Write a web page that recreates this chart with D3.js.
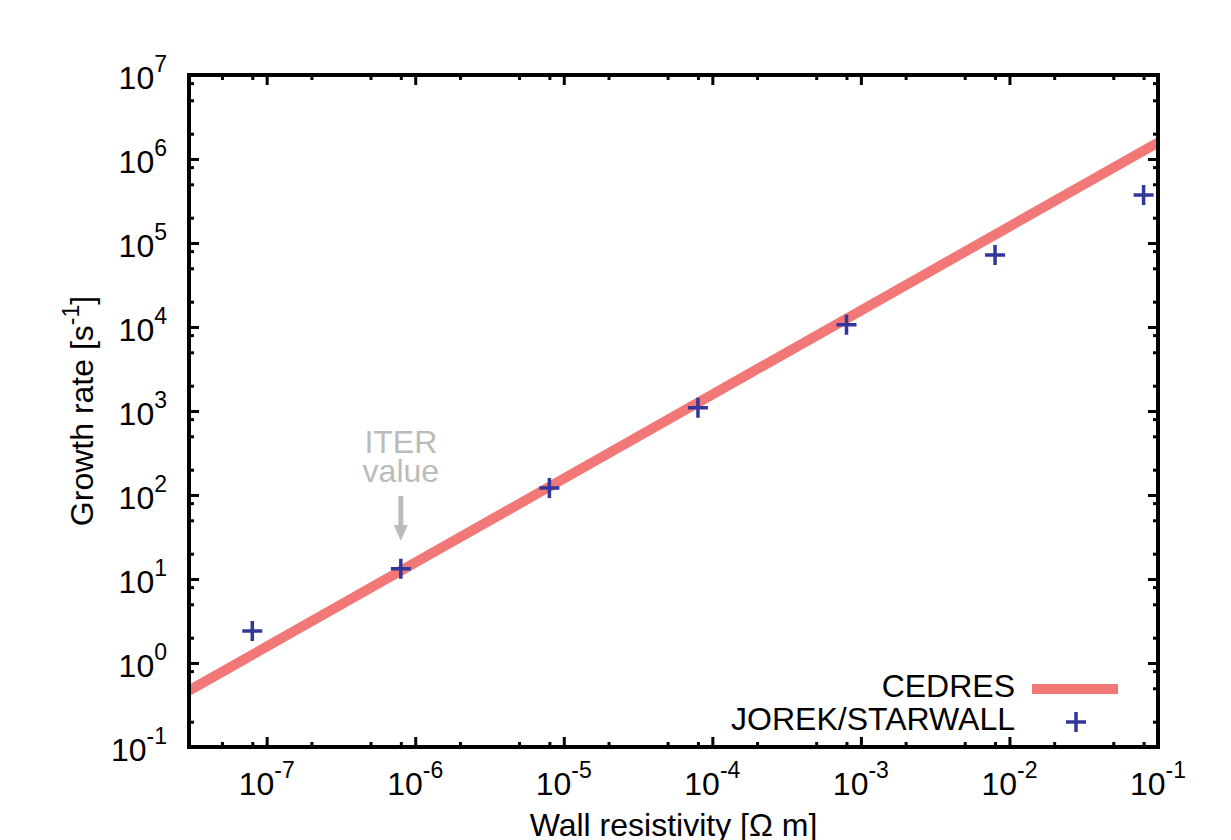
<!DOCTYPE html>
<html>
<head>
<meta charset="utf-8">
<script src="https://cdn.jsdelivr.net/npm/d3@7"></script>
<style>
  body { margin: 0; background: #fff; }
  text { font-family: "Liberation Sans", Arial, sans-serif; }
</style>
</head>
<body>
<div id="viz"></div>
<script>
// data
const jorekX = [8e-8, 8e-7, 8e-6, 8e-5, 8e-4, 8e-3, 8e-2];
const jorekY = [2.4, 13.2, 121, 1090, 10600, 72000, 373000];
const cedresX = [3e-8, 0.1];
const cedresY = [0.47, 1.57e6];
const xMajorExp = [-7, -6, -5, -4, -3, -2, -1];
const yMajorExp = [-1, 0, 1, 2, 3, 4, 5, 6, 7];
const minorMant = [2, 5, 8];
const iterX = 8e-7;

let margin = {top: 75, right: 73, bottom: 93, left: 189},
    width = 1231 - margin.left - margin.right,
    height = 840 - margin.top - margin.bottom;

let svg = d3.select('#viz')
  .append('svg')
  .attr('width', 1231)
  .attr('height', 840)
  .append('g')
  .attr('transform', `translate(${margin.left}, ${margin.top})`);

let x = d3.scaleLog().domain([3e-8, 0.1]).range([0, width]);
let y = d3.scaleLog().domain([0.1, 1e7]).range([height, 0]);

function minors(scale, lo, hi) {
  let out = [];
  const [d0, d1] = scale.domain();
  for (let n = lo; n <= hi; n++) minorMant.forEach(m => {
    let v = m * Math.pow(10, n);
    if (v > d0 && v < d1) out.push(v);
  });
  return out;
}
let xMajor = xMajorExp.map(e => Math.pow(10, e));
let yMajor = yMajorExp.map(e => Math.pow(10, e));
let xMinor = minors(x, -8, -2);
let yMinor = minors(y, -1, 6);

// ticks on all four sides, pointing inward
function tickAxis(axisFn, scale, vals, len, transform) {
  let g = svg.append('g').attr('transform', transform)
    .call(axisFn(scale).tickValues(vals).tickSize(len).tickFormat(''));
  g.select('.domain').remove();
  g.selectAll('line').attr('stroke', '#000').attr('stroke-width', 3);
  return g;
}
tickAxis(d3.axisBottom, x, xMajor, -10, `translate(0,${height})`);
tickAxis(d3.axisBottom, x, xMinor, -5, `translate(0,${height})`);
tickAxis(d3.axisTop, x, xMajor, -10, 'translate(0,0)');
tickAxis(d3.axisTop, x, xMinor, -5, 'translate(0,0)');
tickAxis(d3.axisLeft, y, yMajor, -10, 'translate(0,0)');
tickAxis(d3.axisLeft, y, yMinor, -5, 'translate(0,0)');
tickAxis(d3.axisRight, y, yMajor, -10, `translate(${width},0)`);
tickAxis(d3.axisRight, y, yMinor, -5, `translate(${width},0)`);

const fs = '32px', fsSup = '23px';

// tick labels 10^n
function powLabel(sel, e) {
  sel.append('tspan').text('10');
  sel.append('tspan').attr('dy', -17).style('font-size', fsSup).text(e);
}
xMajorExp.forEach(e => {
  svg.append('text')
    .attr('x', x(Math.pow(10, e)))
    .attr('y', height + 48)
    .attr('text-anchor', 'middle')
    .style('font-size', fs)
    .call(powLabel, e);
});
yMajorExp.forEach(e => {
  svg.append('text')
    .attr('x', -22)
    .attr('y', y(Math.pow(10, e)) + 14)
    .attr('text-anchor', 'end')
    .style('font-size', fs)
    .call(powLabel, e);
});

// axis titles
svg.append('text')
  .attr('x', width / 2)
  .attr('y', height + 89)
  .attr('text-anchor', 'middle')
  .style('font-size', fs)
  .text('Wall resistivity [Ω m]');

let yt = svg.append('text')
  .attr('transform', `translate(-96,${height / 2}) rotate(-90)`)
  .attr('text-anchor', 'middle')
  .style('font-size', fs);
yt.append('tspan').text('Growth rate [s');
yt.append('tspan').attr('dy', -14).style('font-size', fsSup).text('-1');
yt.append('tspan').attr('dy', 14).text(']');

// clip to plotting area
svg.append('clipPath').attr('id', 'clip')
  .append('rect').attr('width', width).attr('height', height);

// CEDRES line
let line = d3.line().x(d => x(d[0])).y(d => y(d[1]));
svg.append('path')
  .datum(d3.zip(cedresX, cedresY))
  .attr('clip-path', 'url(#clip)')
  .attr('d', line)
  .attr('fill', 'none')
  .attr('stroke', '#f27777')
  .attr('stroke-width', 10);

// JOREK/STARWALL points
const plusColor = '#34379a';
function plus(sel, s) {
  sel.append('path')
    .attr('d', `M${-s},0H${s}M0,${-s}V${s}`)
    .attr('stroke', plusColor)
    .attr('stroke-width', 3.5)
    .attr('fill', 'none');
}
svg.selectAll('.pt')
  .data(d3.zip(jorekX, jorekY))
  .join('g')
  .attr('class', 'pt')
  .attr('transform', d => `translate(${x(d[0])},${y(d[1])})`)
  .call(plus, 10);

// ITER annotation
let ix = x(iterX);
svg.append('text').attr('x', ix).attr('y', 378).attr('text-anchor', 'middle')
  .style('font-size', fs).attr('fill', '#bbbbbb').text('ITER');
svg.append('text').attr('x', ix).attr('y', 407).attr('text-anchor', 'middle')
  .style('font-size', fs).attr('fill', '#bbbbbb').text('value');
svg.append('line').attr('x1', ix).attr('x2', ix).attr('y1', 421).attr('y2', 452)
  .attr('stroke', '#bbbbbb').attr('stroke-width', 5);
svg.append('path')
  .attr('d', `M${ix - 7},${450}L${ix + 7},${450}L${ix},${466}Z`)
  .attr('fill', '#bbbbbb');

// legend
let lg = svg.append('g').attr('transform', `translate(${width - 143},0)`);
lg.append('text').attr('x', 0).attr('y', 622).attr('text-anchor', 'end')
  .style('font-size', fs).text('CEDRES');
lg.append('line').attr('x1', 17).attr('x2', 103).attr('y1', 614).attr('y2', 614)
  .attr('stroke', '#f27777').attr('stroke-width', 10);
lg.append('text').attr('x', 0).attr('y', 655).attr('text-anchor', 'end')
  .style('font-size', fs).text('JOREK/STARWALL');
lg.append('g').attr('transform', 'translate(61,647)').call(plus, 10);

// frame
svg.append('rect')
  .attr('width', width).attr('height', height)
  .attr('fill', 'none').attr('stroke', '#000').attr('stroke-width', 4);
</script>
</body>
</html>
